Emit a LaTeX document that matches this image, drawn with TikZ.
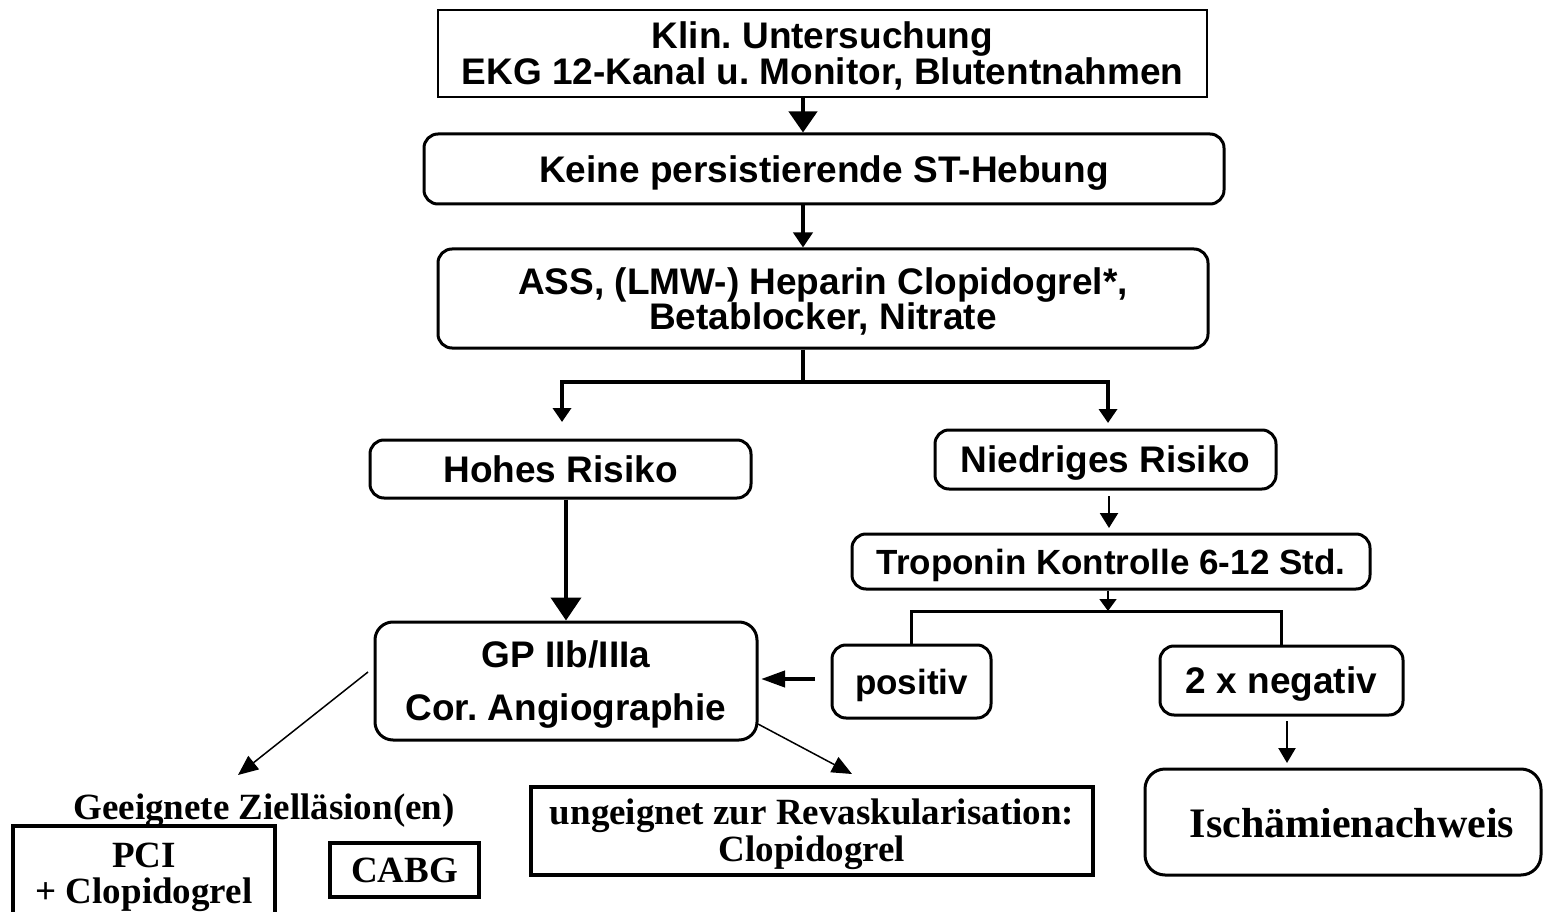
\documentclass[tikz,border=0pt]{standalone}
\usepackage{fontspec}
\newfontfamily\arialf{Liberation Sans}
\newfontfamily\timesf{Liberation Serif}
\usetikzlibrary{arrows.meta}
\frenchspacing
\begin{document}
\begin{tikzpicture}[x=1pt,y=-1pt,
  box/.style={draw, line width=3pt, inner sep=0pt, align=center},
  rbox/.style={box, rounded corners=14pt},
  sf/.style={font=\arialf\bfseries\fontsize{37}{36}\selectfont, text height=27pt, text depth=0.5pt},
  rm/.style={font=\timesf\bfseries\fontsize{37}{36}\selectfont, text height=24.5pt, text depth=0pt},
  thk/.style={line width=4pt},
  thn/.style={line width=2.4pt},
  dia/.style={line width=1.5pt, -{Triangle[length=20pt,width=17pt]}},
]
\useasboundingbox (0,0) rectangle (1543,912);

% nodes
\node[box, line width=2pt, sf, text height=63pt, minimum width=769pt, minimum height=87pt] (top) at (822.5,53.5)
  {Klin. Untersuchung\\EKG 12-Kanal u. Monitor, Blutentnahmen};
\node[rbox, sf, minimum width=800pt, minimum height=70pt] (keine) at (824,169)
  {Keine persistierende ST-Hebung};
\node[rbox, sf, font=\arialf\bfseries\fontsize{37}{35}\selectfont, text height=62pt, minimum width=770pt, minimum height=99pt] (ass) at (823,298.5)
  {ASS, (LMW-) Heparin Clopidogrel*,\\Betablocker, Nitrate};
\node[rbox, sf, minimum width=381pt, minimum height=58pt] (hohes) at (560.5,469)
  {Hohes Risiko};
\node[rbox, sf, minimum width=341pt, minimum height=59pt] (nied) at (1105.5,459.5)
  {Niedriges Risiko};
\node[rbox, sf, font=\arialf\bfseries\fontsize{35}{36}\selectfont, text height=25pt, text depth=0pt, minimum width=518pt, minimum height=55pt] (trop) at (1111,561.5)
  {Troponin Kontrolle 6-12 Std.};
\node[rbox, sf, text height=80pt, rounded corners=18pt, minimum width=382pt, minimum height=118pt] (gp) at (566,681)
  {GP IIb/IIIa\\[17pt]Cor. Angiographie};
\node[rbox, sf, font=\arialf\bfseries\fontsize{35}{36}\selectfont, text height=25pt, text depth=0pt, minimum width=159pt, minimum height=73pt] (pos) at (911.5,681.5)
  {positiv};
\node[rbox, sf, minimum width=243pt, minimum height=69pt] (neg) at (1281.5,680.5)
  {2 x negativ};
\node[rbox, rounded corners=20pt, font=\timesf\bfseries\fontsize{42}{40}\selectfont, text height=30pt, text depth=0pt, minimum width=396pt, minimum height=106pt] (isch) at (1343,822)
  {\hspace*{18pt}Ischämienachweis};
\node[rm] (geeig) at (264,807) {Geeignete Zielläsion(en)};
\node[box, line width=3.5pt, rm, text height=60.5pt, minimum width=262pt, minimum height=94pt] (pci) at (144,873)
  {PCI\\+ Clopidogrel};
\node[box, line width=3.5pt, rm, minimum width=149pt, minimum height=54pt] (cabg) at (404.5,870)
  {CABG};
\node[box, line width=3.5pt, rm, font=\timesf\bfseries\fontsize{37}{37}\selectfont, text height=61.5pt, minimum width=562pt, minimum height=88pt] (ung) at (812,831)
  {ungeignet zur Revaskularisation:\\Clopidogrel};

% helper coordinates
\coordinate (xa) at (803,0);
\coordinate (br) at (803,382);
\coordinate (hl) at (562,422);
\coordinate (hr) at (1108,423);
\coordinate (xg) at (566,0);
\coordinate (n1) at (1109,496);
\coordinate (n2) at (1109,528);
\coordinate (xt) at (1108,0);
\coordinate (tb) at (1108,611);
\coordinate (pa) at (815,679);
\coordinate (pb) at (761,679);
\coordinate (g1) at (1287,721);
\coordinate (g2) at (1287,763);
\coordinate (d1) at (368,672);
\coordinate (d2) at (238,775);
\coordinate (d3) at (758,724);
\coordinate (d4) at (852,774);

% connectors
\draw[thk, -{Triangle[length=21pt,width=28pt]}] (top.south -| xa) -- (keine.north -| xa);
\draw[thk, -{Triangle[length=15pt,width=19pt]}] (keine.south -| xa) -- (ass.north -| xa);
\draw[thk] (ass.south -| br) -- (br);
\draw[thk, -{Triangle[length=14pt,width=18pt]}] (br) -| (hl);
\draw[thk, -{Triangle[length=14pt,width=18pt]}] (br) -| (hr);
\draw[thk, -{Triangle[length=23pt,width=30pt]}] (hohes.south -| xg) -- (gp.north -| xg);
\draw[thn, -{Triangle[length=15pt,width=18pt]}] (n1) -- (n2);
\draw[line width=1.8pt, -{Triangle[length=12pt,width=17pt]}] (trop.south -| xt) -- (tb);
\draw[line width=3pt] (pos.north) |- (tb) -| (neg.north);
\draw[thk, -{Triangle[length=24pt,width=16pt]}] (pa) -- (pb);
\draw[thn, -{Triangle[length=15pt,width=17pt]}] (g1) -- (g2);
\draw[dia] (d1) -- (d2);
\draw[dia] (d3) -- (d4);
\end{tikzpicture}
\end{document}
